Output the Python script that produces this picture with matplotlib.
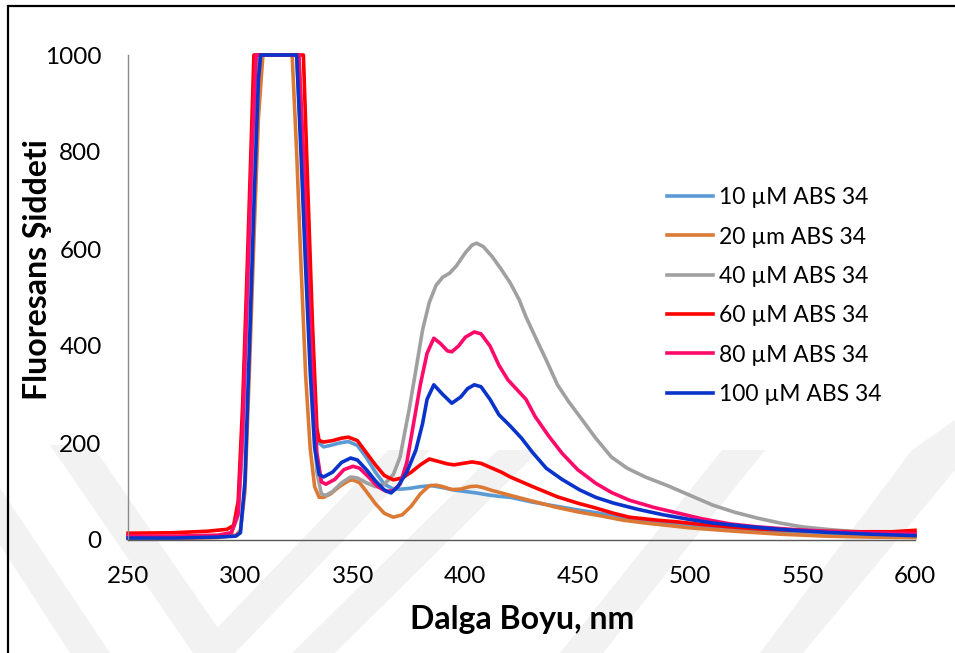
import matplotlib
matplotlib.use("Agg")
import matplotlib.pyplot as plt
from matplotlib.patches import Rectangle, Polygon

plt.rcParams['font.family'] = ['Lato', 'DejaVu Sans']

# 10 uM ABS 34
wl_10 = [250, 270, 290, 296, 299, 301, 303, 305, 307, 308, 325, 327, 329, 331, 333, 335, 337,
         340, 344, 348, 352, 356, 360, 364, 368, 372, 376, 380, 385, 390, 395, 400, 405, 410,
         415, 420, 430, 440, 450, 460, 470, 480, 490, 500, 520, 540, 560, 580, 600]
int_10 = [5, 5, 8, 15, 60, 250, 520, 780, 970, 1000, 1000, 820, 600, 400, 250, 200, 192,
          195, 200, 203, 195, 170, 140, 115, 105, 105, 107, 110, 112, 108, 103, 100, 97, 93,
          90, 88, 78, 70, 62, 55, 47, 40, 33, 28, 20, 15, 12, 10, 10]

# 20 um ABS 34
wl_20 = [250, 270, 290, 298, 300, 302, 304, 306, 308, 310, 323, 325, 327, 329, 331, 333, 335,
         337, 340, 344, 348, 350, 353, 356, 360, 364, 368, 372, 376, 380, 384, 387, 390, 394,
         398, 402, 405, 408, 412, 416, 420, 430, 440, 450, 460, 470, 480, 490, 500, 520, 540,
         560, 580, 600]
int_20 = [3, 3, 5, 10, 20, 100, 350, 620, 870, 1000, 1000, 800, 560, 340, 190, 110, 88,
          88, 95, 110, 122, 124, 118, 100, 75, 55, 47, 52, 70, 95, 112, 113, 110, 104,
          105, 110, 111, 108, 102, 97, 92, 80, 68, 58, 50, 41, 35, 30, 25, 18, 12,
          8, 6, 5]

# 40 uM ABS 34
wl_40 = [250, 270, 290, 296, 299, 301, 303, 305, 307, 326, 328, 330, 332, 334, 336, 338, 341,
         345, 349, 352, 356, 360, 364, 368, 371, 373, 375, 378, 381, 384, 387, 390, 393, 396,
         400, 403, 405, 408, 412, 416, 420, 424, 427, 432, 436, 441, 446, 451, 458, 465, 472,
         480, 490, 500, 510, 520, 530, 540, 550, 563, 580, 600]
int_40 = [5, 5, 8, 15, 50, 200, 480, 760, 1000, 1000, 780, 520, 300, 140, 95, 92, 100,
          118, 130, 128, 118, 110, 115, 135, 171, 220, 268, 350, 433, 490, 525, 542, 550, 565,
          592, 608, 612, 605, 584, 558, 530, 495, 460, 410, 371, 320, 285, 254, 210, 171, 148,
          130, 112, 92, 72, 57, 45, 35, 27, 21, 15, 12]

# 60 uM ABS 34
wl_60 = [250, 270, 285, 294, 297, 299, 301, 303, 305, 306, 328, 330, 332, 334, 335, 337, 341,
         345, 348, 352, 356, 360, 364, 368, 372, 376, 380, 384, 388, 392, 395, 399, 403, 407,
         412, 416, 420, 430, 441, 450, 458, 466, 473, 485, 495, 505, 518, 530, 545, 560, 575,
         590, 600]
int_60 = [14, 15, 18, 22, 30, 80, 280, 560, 850, 1000, 1000, 720, 450, 230, 205, 202, 205,
          210, 212, 205, 180, 155, 133, 124, 128, 140, 155, 167, 162, 157, 155, 158, 161, 158,
          148, 140, 130, 110, 89, 76, 66, 55, 47, 41, 37, 32, 27, 23, 20, 18, 17,
          17, 20]

# 80 uM ABS 34
wl_80 = [250, 270, 290, 296, 299, 301, 303, 305, 307, 326, 328, 330, 332, 334, 336, 338, 342,
         346, 350, 353, 357, 361, 365, 368, 371, 374, 377, 380, 383, 386, 389, 392, 394, 397,
         400, 404, 407, 411, 415, 419, 423, 427, 431, 437, 443, 450, 458, 465, 473, 484, 495,
         505, 518, 530, 545, 560, 580, 600]
int_80 = [8, 8, 10, 15, 55, 230, 510, 790, 1000, 1000, 800, 560, 340, 180, 120, 115, 125,
          145, 152, 148, 130, 110, 100, 102, 115, 160, 240, 320, 385, 416, 405, 390, 388, 400,
          418, 429, 425, 400, 360, 330, 310, 290, 255, 215, 179, 145, 117, 98, 82, 67, 55,
          44, 33, 27, 22, 18, 15, 13]

# 100 uM ABS 34
wl_100 = [250, 270, 290, 298, 300, 302, 304, 306, 308, 309, 325, 327, 329, 331, 333, 335, 337,
          341, 345, 349, 352, 356, 360, 364, 367, 370, 374, 378, 381, 383, 386, 390, 394, 398,
          401, 404, 407, 411, 415, 420, 425, 430, 436, 443, 451, 458, 466, 477, 488, 499, 510,
          525, 540, 560, 580, 600]
int_100 = [4, 4, 6, 8, 15, 120, 400, 690, 950, 1000, 1000, 790, 560, 350, 190, 135, 130,
           140, 160, 169, 165, 145, 122, 103, 97, 110, 140, 185, 240, 290, 320, 300, 282, 295,
           312, 320, 316, 290, 258, 235, 210, 180, 148, 125, 103, 88, 76, 63, 52, 43, 35,
           28, 22, 16, 12, 9]

labels = ["10 µM ABS 34", "20 µm ABS 34", "40 µM ABS 34",
          "60 µM ABS 34", "80 µM ABS 34", "100 µM ABS 34"]
colors = ["#5B9BD5", "#DC7A35", "#A0A0A0", "#FF0000", "#FF0A6A", "#0A33CC"]
series = [(wl_10, int_10), (wl_20, int_20), (wl_40, int_40),
          (wl_60, int_60), (wl_80, int_80), (wl_100, int_100)]

W, H = 955, 653
fig = plt.figure(figsize=(W / 100, H / 100), dpi=100)

# faint watermark chevrons (figure pixel coords, y from top)
bands = [
    [(50, 445), (92, 445), (235, 653), (193, 653)],
    [(0, 488), (0, 545), (70, 653), (110, 653)],
    [(193, 653), (235, 653), (430, 450), (388, 450)],
    [(292, 653), (335, 653), (540, 450), (498, 450)],
    [(560, 653), (603, 653), (765, 450), (722, 450)],
    [(760, 653), (803, 653), (955, 470), (955, 420), (912, 450)],
]
for b in bands:
    pts = [(x / W, 1 - y / H) for x, y in b]
    fig.add_artist(Polygon(pts, closed=True, transform=fig.transFigure,
                           facecolor="#F2F2F2", edgecolor="none", zorder=0))

ax = fig.add_axes([128 / W, 1 - 540 / H, (915 - 128) / W, (540 - 55) / H])
ax.set_facecolor("none")

for (x, y), c, lab in zip(series, colors, labels):
    ax.plot(x, y, color=c, lw=2.6, label=lab, clip_on=False, solid_joinstyle="round")

ax.set_xlim(250, 600)
ax.set_ylim(0, 1000)
ax.set_xticks(range(250, 601, 50))
ax.set_yticks(range(0, 1001, 200))
ax.tick_params(length=0, labelsize=17.5, colors="#000000")
ax.tick_params(axis="y", pad=19)
ax.tick_params(axis="x", pad=19)
for s in ("top", "right"):
    ax.spines[s].set_visible(False)
ax.spines["left"].set_color("#8C8C8C")
ax.spines["bottom"].set_color("#595959")
ax.spines["left"].set_linewidth(1.0)
ax.spines["bottom"].set_linewidth(1.0)

fig.text(522 / W, 1 - 620 / H, "Dalga Boyu, nm", ha="center", va="center",
         fontsize=23, fontweight="bold")
fig.text(38 / W, 1 - 270 / H, "Fluoresans Şiddeti", ha="center", va="center",
         rotation=90, fontsize=23, fontweight="bold")

ax.legend(loc="center left", bbox_to_anchor=(667 / W, 1 - 296 / H),
          bbox_transform=fig.transFigure, frameon=False, fontsize=16.5,
          handlelength=2.0, handletextpad=0.25, labelspacing=0.8,
          borderpad=0, borderaxespad=0)

# outer frame (only left and top edges fall inside the image)
fig.add_artist(Rectangle((8 / W, -0.1), 1.2, (H - 6) / H + 0.1, transform=fig.transFigure,
                         fill=False, ec="black", lw=1.6))

fig.savefig("out.png", dpi=100)
